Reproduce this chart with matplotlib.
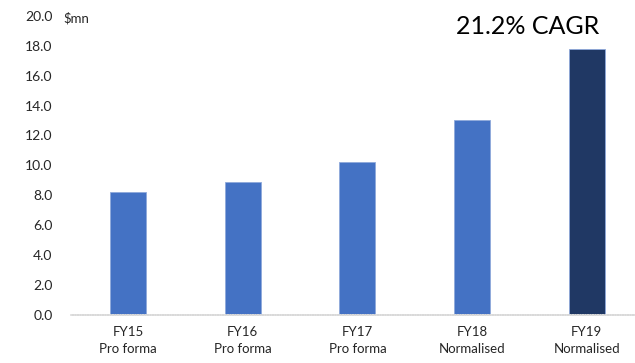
import matplotlib.pyplot as plt

# data
years = ["FY15", "FY16", "FY17", "FY18", "FY19"]
kinds = ["Pro forma", "Pro forma", "Pro forma", "Normalised", "Normalised"]
values = [8.2, 8.9, 10.2, 13.0, 17.8]
colours = ["#4472C4", "#4472C4", "#4472C4", "#4472C4", "#203864"]
yticks = [0, 2, 4, 6, 8, 10, 12, 14, 16, 18, 20]

plt.rcParams['font.family'] = ['Lato', 'DejaVu Sans']

fig = plt.figure(figsize=(6.35, 3.63), dpi=100)
ax = fig.add_axes([0.1113, 0.1336, 0.8887, 0.8224])

x = list(range(len(years)))
ax.bar(x, values, width=0.314, color=colours, edgecolor="#8EA9DB", linewidth=0.6, zorder=2)

ax.set_ylim(0, 20)
ax.set_xlim(-0.5, 4.42)
ax.set_yticks(yticks)
ax.set_yticklabels(["%.1f" % t for t in yticks], fontsize=10, color="#262626")
ax.set_xticks(x)
ax.set_xticklabels([y + "\n" + k for y, k in zip(years, kinds)], fontsize=9.5,
                   color="#262626", linespacing=1.5)
ax.tick_params(axis="both", length=0)
ax.tick_params(axis="y", pad=13)
ax.tick_params(axis="x", pad=8)

for s in ["top", "right", "left"]:
    ax.spines[s].set_visible(False)
ax.spines["bottom"].set_color("#D9D9D9")
ax.spines["bottom"].set_linestyle((0, (1, 0.5)))
ax.spines["bottom"].set_linewidth(1.2)

fig.text(63 / 635, 1 - 18 / 363, "$mn", fontsize=9.5, color="#262626", va="center", ha="left")
fig.text(528 / 635, 1 - 27 / 363, "21.2% CAGR", fontsize=18, color="black", va="center", ha="center")

fig.savefig("out.png", dpi=100)
